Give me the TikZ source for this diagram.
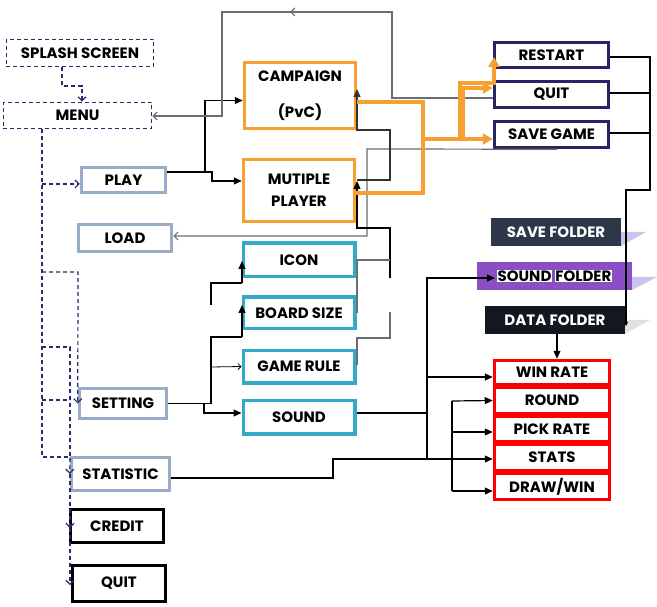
\documentclass[tikz,border=0pt]{standalone}
\usepackage{fontspec}
\setmainfont{Poppins}
\usetikzlibrary{arrows.meta}
\definecolor{navy}{RGB}{46,40,110}
\definecolor{steel}{RGB}{152,172,200}
\definecolor{orng}{RGB}{247,160,50}
\definecolor{tealb}{RGB}{52,170,198}
\definecolor{rnavy}{RGB}{40,35,100}
\definecolor{slate}{RGB}{44,56,72}
\definecolor{purp}{RGB}{139,78,196}
\definecolor{darkf}{RGB}{18,24,32}
\definecolor{lav}{RGB}{200,196,238}
\definecolor{lgry}{RGB}{225,225,228}
\definecolor{gryl}{RGB}{105,110,115}
\newcommand\mybox[7]{\node[#1, minimum width={#4-#2-2.5}, minimum height={#5-#3-2.5}] (#6) at ({(#2+#4)/2},{(#3+#5)/2}) {#7};}
\begin{document}
\begin{tikzpicture}[x=1pt,y=-1pt,
  base/.style={rectangle, inner sep=0pt, font=\bfseries\fontsize{15}{18}\selectfont, text=black, align=center},
  dbox/.style={base, draw=navy, dash pattern=on 4pt off 3pt, line width=1.2pt},
  sbox/.style={base, draw=steel, line width=3pt},
  kbox/.style={base, draw=black, line width=3pt},
  obox/.style={base, draw=orng, line width=3pt},
  tbox/.style={base, draw=tealb, line width=3.5pt},
  nbox/.style={base, draw=rnavy, line width=3pt},
  rbox/.style={base, draw=red, line width=3pt},
  fldr/.style={base, text=white},
  dln/.style={draw=navy, dash pattern=on 4pt off 3pt, line width=1.2pt},
  darr/.style={dln, -{Straight Barb[length=4pt,width=8pt]}},
  blk/.style={draw=black, line width=1.2pt},
  barr/.style={blk, -{Triangle[length=8pt,width=7pt]}},
  bopen/.style={blk, line width=0.8pt, -{Straight Barb[length=3pt,width=6pt]}},
  dgl/.style={draw=black!80, line width=1.2pt},
  dgarr/.style={dgl, -{Triangle[length=8pt,width=7pt]}},
  gln/.style={draw=gryl, line width=1.2pt},
  garr/.style={gln, -{Straight Barb[length=4pt,width=8pt]}},
  oln/.style={draw=orng, line width=3.5pt},
  oarr/.style={oln, -{Triangle[length=10pt,width=11pt]}}
]
\useasboundingbox[fill=white] (0,0) rectangle (657,607);

% left column
\mybox{dbox}{5}{38}{155}{68}{splash}{SPLASH SCREEN}
\mybox{dbox}{2}{101}{153}{130}{menu}{MENU}
\mybox{sbox}{80}{166}{167}{194}{play}{PLAY}
\mybox{sbox}{77}{223}{173}{253}{load}{LOAD}
\mybox{sbox}{78}{387}{168}{420}{setting}{SETTING}
\mybox{sbox}{70}{456}{171}{492}{statistic}{STATISTIC}
\mybox{kbox}{69}{508}{165}{544}{credit}{CREDIT}
\mybox{kbox}{71}{564}{167}{603}{quitA}{QUIT}

% middle column
\mybox{obox}{243}{61}{357}{130}{campaign}{CAMPAIGN\\[18pt](PvC)}
\mybox{obox}{242}{158}{356}{223}{multi}{MUTIPLE\\[4pt]PLAYER}
\mybox{tbox}{242}{242}{356}{278}{icon}{ICON}
\mybox{tbox}{242}{296}{356}{330}{board}{BOARD SIZE}
\mybox{tbox}{242}{349}{356}{384}{rule}{GAME RULE}
\mybox{tbox}{242}{399}{356}{435}{sound}{SOUND}

% right column
\mybox{nbox}{493}{41}{610}{69}{restart}{RESTART}
\mybox{nbox}{493}{80}{610}{109}{quitB}{QUIT}
\mybox{nbox}{493}{120}{610}{149}{save}{SAVE GAME}

\fill[lav] (621,232) -- (646,232) -- (621,246) -- cycle;
\fill[lav] (632,277) -- (657,277) -- (632,290) -- cycle;
\fill[lgry] (625,320) -- (650,320) -- (625,334) -- cycle;
\node[fldr, fill=slate, minimum width=130, minimum height=28] (savef) at (556,232) {SAVE FOLDER};
\node[fldr, fill=purp, minimum width=155, minimum height=28] (soundf) at (554.5,276) {\setlength\fboxsep{0.5pt}\colorbox{white}{\color{black}SOUND}\hspace{3pt}\colorbox{white}{\color{black}FOLDER}};
\node[fldr, fill=darkf, minimum width=140, minimum height=28] (dataf) at (555,320) {DATA FOLDER};

\mybox{rbox}{493}{359}{611}{386}{win}{WIN RATE}
\mybox{rbox}{493}{386}{611}{415}{round}{ROUND}
\mybox{rbox}{493}{415}{611}{443}{pick}{PICK RATE}
\mybox{rbox}{493}{443}{611}{472}{stats}{STATS}
\mybox{rbox}{493}{472}{611}{501}{draw}{DRAW/WIN}

% dashed menu connectors
\draw[darr] ([xshift=-18pt]splash.south) -- (62,86) -- (82,86) -- ([xshift=4.5pt]menu.north);
\draw[dln] ([xshift=-35.5pt]menu.south) -- (42,457) -- (70,457);
\draw[darr] (42,184) -- ([yshift=-4pt]play.west);
\draw[darr] (42,272) -- (78,272) -- (setting.west);
\draw[dln] (42,347) -- (70,347) -- (70,460);
\draw[dln] (42,400) -- (70,400);
\draw[darr] (70,458) -- (statistic.west);
\draw[darr] (70,474) -- (70,528);
\draw[darr] (70,528) -- (70,585);

% play -> campaign / multiplayer
\draw[barr] ([yshift=8pt]play.east) -- (205,172) -- (205,100.5) -- ([yshift=-5pt]campaign.west);
\draw[barr] (205,172) -- (212,172) -- (212,181) -- ([yshift=9.5pt]multi.west);

% return to menu
\draw[garr] ([yshift=-3.5pt]quitB.west) -- (392,98) -- (392,12) -- (222,12) -- (222,116) -- ([yshift=-0.5pt]menu.east);
\draw[garr] (300,12) -- (290,12);
% save game -> load
\draw[garr] ([xshift=5.5pt]save.south) -- (367,149) -- (367,236) -- ([yshift=2pt]load.east);

% feedback lines into campaign / multi
\draw[dgarr] (357,180) -- (390,180) -- (390,130) -- (357,130) -- (357,89);
\draw[barr] (390,278) -- (390,228) -- (357,228) -- (357,181);
\draw[gln] (357,313) -- (357,260) -- (390,260);
\draw[gln] (390,312) -- (390,338) -- (357,338) -- (357,365);

% orange
\draw[oln] ([yshift=-6.5pt]campaign.east) -- (423,102) -- (423,193) -- ([yshift=-2.5pt]multi.east);
\draw[oarr] (423,139) -- ([yshift=-4.5pt]save.west);
\draw[oarr] (460,139) -- (460,83) -- (494,83) -- (494,57);
\draw[oarr] (463,139) -- (463,88) -- ([yshift=6.5pt]quitB.west);

% setting -> sub-options
\draw[blk] (setting.east) -- (211,403.5) -- (211,337) -- (242,337);
\draw[barr] (242,337) -- (242,305);
\draw[blk] (211,305) -- (211,283) -- (242,283);
\draw[barr] (242,283) -- (242,261);
\draw[bopen] (211,367) -- (rule.west);
\draw[barr] (204,403.5) -- (204,413) -- ([yshift=4pt]sound.west);

% right: restart/quit/save -> data folder
\draw[blk] ([yshift=-2pt]restart.east) -- (650,57) -- (650,190) -- (626,190) -- (626,318);
\draw[blk, -{Triangle[length=4pt,width=4pt]}] (626,318) -- (626,326);
\draw[blk] ([yshift=1.5pt]quitB.east) -- (650,93);
\draw[blk] ([yshift=1.5pt]save.east) -- (650,133);
\draw[barr] ([xshift=2pt]dataf.south) -- ([xshift=5pt]win.north);

% sound -> sound folder, win rate
\draw[barr] ([yshift=4pt]sound.east) -- (427,413) -- (427,278) -- (495,278);
\draw[barr] (427,377) -- ([yshift=-4.5pt]win.west);
\draw[blk] (427,413) -- (427,459);
% statistic -> stats
\draw[barr] ([yshift=-4pt]statistic.east) -- (333,478) -- (333,459) -- ([yshift=-1.5pt]stats.west);
% round / pick / draw
\draw[barr] (452,401) -- (round.west);
\draw[blk] (452,401) -- (452,491);
\draw[barr] (452,432) -- ([yshift=-3pt]pick.west);
\draw[barr] (452,491) -- ([yshift=-4.5pt]draw.west);
\end{tikzpicture}
\end{document}
